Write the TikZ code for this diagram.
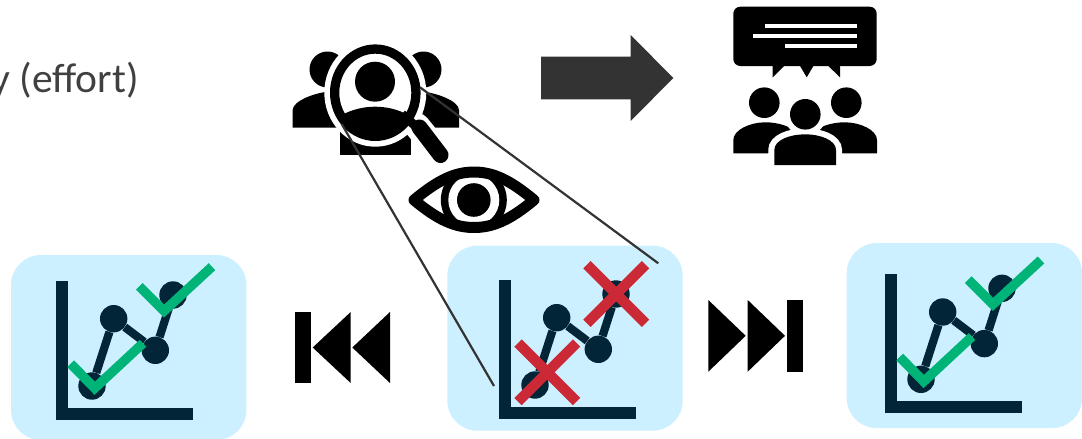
\documentclass[tikz,border=0pt]{standalone}
\usepackage{fontspec}
\setmainfont{Carlito}
\definecolor{panelblue}{HTML}{CCF0FF}
\definecolor{navy}{HTML}{022538}
\definecolor{okgreen}{HTML}{00B377}
\definecolor{badred}{HTML}{CC2936}
\definecolor{arrowgrey}{HTML}{333333}
\definecolor{textgrey}{HTML}{404040}
\tikzset{
  panel/.style={fill=panelblue,draw=none,rounded corners=30pt,minimum width=235.4pt,minimum height=185pt,inner sep=0pt},
  dot/.style={circle,fill=navy,draw=none,minimum size=27.4pt,inner sep=0pt},
  link/.style={draw=navy,line width=8.2pt},
  axisline/.style={draw=navy,line width=12pt,miter limit=10},
  tick/.style={draw=okgreen,line width=9.5pt,miter limit=10},
  crossmark/.style={draw=badred,line width=10.4pt},
  sight/.style={draw=arrowgrey,line width=2.2pt}
}
\newcommand{\chartbase}[3]{%
  \begin{scope}[shift={(#2,#3)}]
    \draw[axisline] (6,0) -- (6,133) -- (136.4,133);
    \node[dot] (#1a) at (35.7,105) {};
    \node[dot] (#1b) at (57.4,37.7) {};
    \node[dot] (#1c) at (99,69.3) {};
    \node[dot] (#1d) at (116.7,14) {};
    \draw[link] (#1a) -- (#1b);
    \draw[link] (#1b) -- (#1c);
    \draw[link] (#1c) -- (#1d);
  \end{scope}}
\newcommand{\chartticks}[2]{%
  \begin{scope}[shift={(#1,#2)}]
    \draw[tick] (14.4,82.7) -- (38.4,107.2) -- (86.7,62.3);
    \draw[tick] (83,5.3) -- (107.7,30) -- (155.7,-14.3);
  \end{scope}}
\begin{document}
\begin{tikzpicture}[x=1pt,y=-1pt]
\useasboundingbox (0,0) rectangle (1082,439);
% text
\node[anchor=base east,inner sep=0pt,text=textgrey,font=\fontsize{41.5}{48}\selectfont] (effort) at (139,92.7) {y (effort)};
% panels
\node[panel] (left) at (128.7,347.5) {};
\node[panel] (mid) at (565,338.2) {};
\node[panel] (right) at (964.4,335.6) {};
\chartbase{l}{56.3}{281}
\chartbase{m}{499.3}{280}
\chartbase{r}{885.3}{274.3}
\chartticks{56.3}{281}
\chartticks{885.3}{274.3}
\begin{scope}[shift={(499.3,280)}]
  \draw[crossmark] (18.7,63) -- (77.3,121.6);
  \draw[crossmark] (18.7,121.6) -- (77.3,63);
  \draw[crossmark] (87.7,-15.3) -- (146.3,43.3);
  \draw[crossmark] (87.7,43.3) -- (146.3,-15.3);
\end{scope}
% skip icons
\fill[black] (295.3,311.7) rectangle (311,383.3);
\fill[black] (312.7,347.5) -- (350.7,312) -- (350.7,383) -- cycle;
\fill[black] (352.3,347.5) -- (390,312) -- (390,383) -- cycle;
\fill[black] (708.3,300) -- (745.7,335.8) -- (708.3,371.7) -- cycle;
\fill[black] (747.7,300) -- (785,335.8) -- (747.7,371.7) -- cycle;
\fill[black] (787.3,300) rectangle (802.7,371.7);
% big arrow
\fill[arrowgrey] (541,56.7) -- (630.7,56.7) -- (630.7,35) -- (673.3,78) -- (630.7,121) -- (630.7,99.3) -- (541,99.3) -- cycle;
% searched group
\fill[black] (327.5,69.5) circle (18);
\fill[black] (423.5,69.5) circle (18);
\fill[black] (292.7,127.7) -- (292.7,110) .. controls (292.7,101) and (315,92.5) .. (330,91.5) -- (350,91.5) -- (350,127.7) -- cycle;
\fill[black] (459,127.7) -- (459,110) .. controls (459,101) and (436,92.5) .. (421,91.5) -- (400,91.5) -- (400,127.7) -- cycle;
\fill[black] (340,155) rectangle (410.7,125);
% handle halo and ring halo
\draw[white,line width=26pt,line cap=round] (417,126) -- (440.5,155);
\fill[white] (375.3,92.7) ellipse [x radius=51,y radius=54];
\draw[black,line width=9pt] (402,114) -- (421,131);
\draw[black,line width=16pt,line cap=round] (419.5,127.5) -- (440.5,155);
\fill[black,even odd rule] (375.3,92.7) ellipse [x radius=45.3,y radius=48.3] (375.3,92.7) ellipse [x radius=36,y radius=39];
\fill[black] (375,81.7) circle (20);
\begin{scope}
  \clip (375.3,92.7) ellipse [x radius=37,y radius=40];
  \fill[black] (340,116) .. controls (352,109) and (365,106.7) .. (375,106.7) .. controls (386,106.7) and (398,109) .. (410,116) -- (410,135) -- (340,135) -- cycle;
\end{scope}
% sight lines
\coordinate (lensR) at (420,87.3);
\coordinate (lensL) at (341.7,124);
\coordinate (chartTR) at (658.3,263.3);
\coordinate (chartBL) at (494,386);
\draw[sight] (lensR) -- (chartTR);
\draw[sight] (lensL) -- (chartBL);
% eye
\fill[black] (473.8,200) circle (33);
\fill[white] (473.8,200) circle (25.5);
\fill[black] (473.8,200) circle (16.8);
\draw[black,line width=11pt,line join=round] (414,200) .. controls (438,180) and (455,172) .. (474,172) .. controls (493,172) and (510,180) .. (534,200) .. controls (510,220) and (493,227.5) .. (474,227.5) .. controls (455,227.5) and (438,220) .. (414,200) -- cycle;
% speech bubble
\fill[black,rounded corners=7pt] (733.3,6.7) rectangle (876.7,66);
\fill[black] (772.7,65) -- (772.7,77.3) -- (785,65) -- cycle;
\fill[black] (799.5,65) -- (806.7,77.3) -- (814,65) -- cycle;
\fill[black] (827.3,65) -- (840,77.3) -- (840,65) -- cycle;
\fill[white] (765,24.3) rectangle (857.3,28.3);
\fill[white] (753.3,34.3) rectangle (857.3,38.3);
\fill[white] (785,44.3) rectangle (857.3,48.3);
% audience
\fill[black] (764.3,102.7) circle (15.3);
\fill[black] (846.3,102.7) circle (15.3);
\fill[black] (733.3,153.3) -- (733.3,140) .. controls (733.3,130) and (750,122.3) .. (765,122.3) .. controls (780,122.3) and (790,127) .. (800,133) -- (800,153.3) -- cycle;
\fill[black] (877,153.3) -- (877,140) .. controls (877,130) and (860,122.3) .. (845,122.3) .. controls (830,122.3) and (820,127) .. (810,133) -- (810,153.3) -- cycle;
\path[fill=black,draw=white,line width=12pt] (805.3,114.3) circle (15.3);
\path[fill=white] (768.3,171) rectangle (842,153);
\path[fill=black,draw=white,line width=12pt] (774.3,165) -- (774.3,150) .. controls (774.3,140) and (790,134.3) .. (805.3,134.3) .. controls (820,134.3) and (836,140) .. (836,150) -- (836,165) -- cycle;
\fill[black] (805.3,114.3) circle (15.3);
\fill[black] (774.3,165) -- (774.3,150) .. controls (774.3,140) and (790,134.3) .. (805.3,134.3) .. controls (820,134.3) and (836,140) .. (836,150) -- (836,165) -- cycle;
\end{tikzpicture}
\end{document}
